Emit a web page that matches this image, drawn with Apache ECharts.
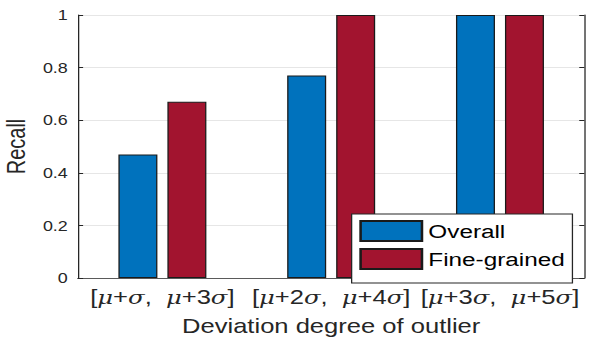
<!DOCTYPE html>
<html><head><meta charset="utf-8">
<script src="https://cdn.jsdelivr.net/npm/echarts@6/dist/echarts.min.js"></script>
<style>
html,body{margin:0;padding:0;background:#fff;overflow:hidden}
#c{width:470px;height:338px;transform:scaleX(1.2787);transform-origin:0 0}
</style>
</head><body><div id="c"></div>
<script>
const categories = ['[μ+σ,  μ+3σ]', '[μ+2σ,  μ+4σ]', '[μ+3σ,  μ+5σ]'];
const overall = [0.47, 0.77, 1.0];
const fineGrained = [0.67, 1.0, 1.0];
const yTickLabels = ['0', '0.2', '0.4', '0.6', '0.8', '1'];

const txt = '#262626';
const font = 'Liberation Sans, Arial, Helvetica, sans-serif';
const chart = echarts.init(document.getElementById('c'), null, { renderer: 'svg' });
chart.setOption({
  animation: false,
  grid: { left: 61, right: 13, top: 15, bottom: 60, containLabel: false, outerBoundsMode: 'none' },
  legend: {
    left: 275, top: 214, orient: 'vertical', icon: 'rect',
    itemWidth: 48, itemHeight: 20, itemGap: 6,
    padding: [6, 6, 13, 6],
    backgroundColor: '#fff', borderColor: '#262626', borderWidth: 1,
    textStyle: { fontFamily: font, fontSize: 19, color: '#000' },
    data: ['Overall', 'Fine-grained']
  },
  xAxis: [{
    type: 'category', data: categories,
    name: 'Deviation degree of outlier', nameLocation: 'middle', nameGap: 38,
    nameTextStyle: { fontFamily: font, fontSize: 20, color: txt },
    axisLine: { lineStyle: { color: '#262626' } },
    axisTick: { show: false },
    axisLabel: {
      interval: 0, margin: 9, color: txt, fontSize: 20, fontFamily: font, hideOverlap: false,
      formatter: v => v.replace(/([μσ])/g, '{i|$1}'),
      rich: { i: { fontStyle: 'italic', fontFamily: 'DejaVu Serif, serif', fontSize: 19, color: txt } }
    },
    splitLine: { show: false }
  }, {
    type: 'category', data: categories, position: 'top',
    axisLine: { lineStyle: { color: '#5a5a5a' } },
    axisTick: { show: false }, axisLabel: { show: false }
  }],
  yAxis: [{
    type: 'value', min: 0, max: 1, interval: 0.2,
    name: 'Recall', nameLocation: 'middle', nameGap: 36,
    nameTextStyle: { fontFamily: font, fontSize: 20, color: txt },
    axisLine: { show: true, lineStyle: { color: '#262626' } },
    axisTick: { show: true, inside: true, length: 4, lineStyle: { color: '#262626' } },
    axisLabel: { color: txt, fontSize: 14, margin: 8, fontFamily: font,
      formatter: v => yTickLabels[Math.round(v / 0.2)] },
    splitLine: { show: true, lineStyle: { color: '#e6e6e6' } }
  }, {
    type: 'value', min: 0, max: 1, interval: 0.2, position: 'right',
    axisLine: { show: true, lineStyle: { color: '#262626' } },
    axisTick: { show: true, inside: true, length: 4, lineStyle: { color: '#262626' } },
    axisLabel: { show: false }, splitLine: { show: false }
  }],
  series: [{
    name: 'Overall', type: 'bar', data: overall, barWidth: 30.5, barGap: '25.6%',
    itemStyle: { color: '#0072BD', borderColor: '#1a1a1a', borderWidth: 1 }
  }, {
    name: 'Fine-grained', type: 'bar', data: fineGrained, barWidth: 30.5,
    itemStyle: { color: '#A2142F', borderColor: '#1a1a1a', borderWidth: 1 }
  }]
});
</script></body></html>
